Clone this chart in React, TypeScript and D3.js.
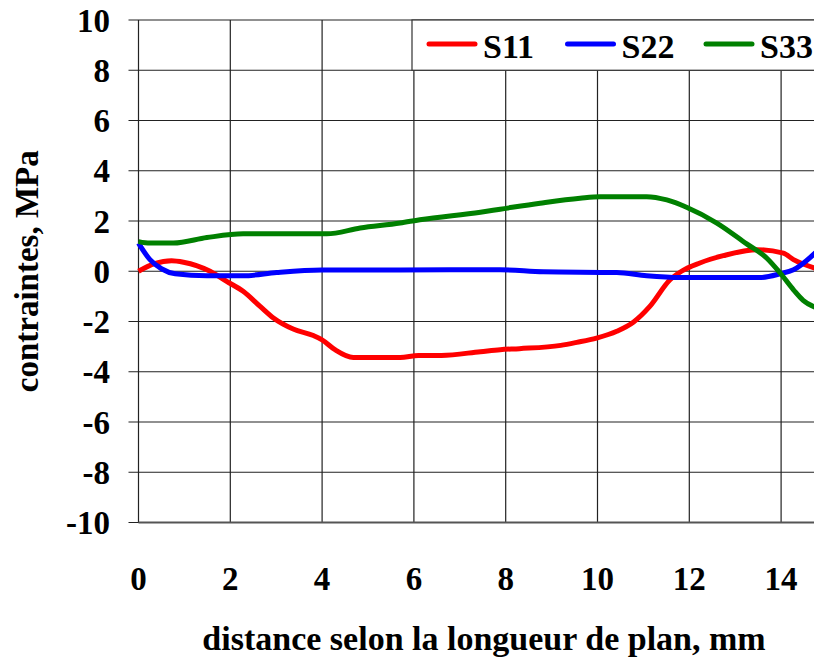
import React from 'react';
import * as d3 from 'd3';

// valeurs : [distance mm, contrainte MPa]
const s11: [number, number][] = [
  [0, 0], [0.35, 0.3], [0.72, 0.42], [0.98, 0.36], [1.56, 0.0], [1.92, -0.4],
  [2.28, -0.8], [2.65, -1.4], [2.94, -1.86], [3.37, -2.3], [3.81, -2.56],
  [3.99, -2.72], [4.28, -3.12], [4.68, -3.43], [5.7, -3.43], [6.1, -3.35],
  [6.6, -3.35], [7.45, -3.2], [7.88, -3.12], [8.3, -3.08], [9.2, -2.95],
  [9.55, -2.83], [9.98, -2.66], [10.42, -2.39], [10.78, -2.03], [11.14, -1.4],
  [11.58, -0.34], [11.83, 0.0], [12.23, 0.33], [12.74, 0.62], [13.47, 0.86],
  [14.05, 0.72], [14.27, 0.46], [14.75, 0.12],
];
const s22: [number, number][] = [
  [0, 1.12], [0.25, 0.46], [0.5, 0.1], [0.8, -0.1], [1.49, -0.18], [2.28, -0.18],
  [3.01, -0.05], [3.99, 0.05], [5.7, 0.05], [7.88, 0.06], [8.82, -0.02],
  [10.42, -0.05], [11.07, -0.18], [11.8, -0.25], [13.54, -0.25], [13.98, -0.1],
  [14.27, 0.06], [14.75, 0.74],
];
const s33: [number, number][] = [
  [0, 1.18], [0.25, 1.12], [0.76, 1.12], [1.49, 1.34], [2.28, 1.49], [4.1, 1.49],
  [4.83, 1.72], [5.7, 1.92], [6.13, 2.05], [7.45, 2.35], [7.88, 2.47],
  [8.75, 2.71], [9.62, 2.91], [10.05, 2.97], [11.07, 2.97], [11.51, 2.84],
  [11.94, 2.55], [12.6, 1.92], [13.25, 1.09], [13.69, 0.52], [13.98, -0.07],
  [14.27, -0.74], [14.48, -1.16], [14.75, -1.44],
];

const series = [
  { name: 'S11', color: '#ff0000', data: s11 },
  { name: 'S22', color: '#0000ff', data: s22 },
  { name: 'S33', color: '#008000', data: s33 },
];

const xTicks = [0, 2, 4, 6, 8, 10, 12, 14];
const yTicks = [-10, -8, -6, -4, -2, 0, 2, 4, 6, 8, 10];

const W = 814;
const H = 659;
const font = '"Liberation Serif", "Times New Roman", serif';

const App: React.FC = () => {
  const x = d3.scaleLinear().domain([0, 16]).range([138.5, 138.5 + 16 * 45.9]);
  const y = d3.scaleLinear().domain([-10, 10]).range([522.5, 20]);
  const x0 = x(0);
  const xEnd = W;

  const line = d3
    .line<[number, number]>()
    .x((d) => x(d[0]))
    .y((d) => y(d[1]))
    .curve(d3.curveMonotoneX);

  return (
    <svg
      width={W}
      height={H}
      style={{ position: 'absolute', left: 0, top: 0, background: '#fff' }}
      fontFamily={font}
      fontWeight="bold"
    >
      {/* grille horizontale */}
      {yTicks.map((t) => (
        <line key={'h' + t} x1={x0 - 10} x2={xEnd} y1={y(t)} y2={y(t)} stroke="#222" strokeWidth={1.2} />
      ))}
      {/* grille verticale */}
      {xTicks.map((t) => (
        <line key={'v' + t} x1={x(t)} x2={x(t)} y1={y(10)} y2={y(-10)} stroke="#222" strokeWidth={1.2} />
      ))}
      <line x1={x0} x2={xEnd} y1={y(-10)} y2={y(-10)} stroke="#555" strokeWidth={2} />

      {/* étiquettes Y */}
      {yTicks.map((t) => (
        <text key={'yl' + t} x={110} y={y(t)} dy="0.35em" textAnchor="end" fontSize={33}>
          {t}
        </text>
      ))}
      {/* étiquettes X */}
      {xTicks.map((t) => (
        <text key={'xl' + t} x={x(t)} y={578} dy="0.35em" textAnchor="middle" fontSize={33}>
          {t}
        </text>
      ))}

      {/* courbes */}
      {series.map((s) => (
        <path key={s.name} d={line(s.data) || ''} fill="none" stroke={s.color} strokeWidth={5} strokeLinejoin="round" />
      ))}

      {/* légende */}
      <rect x={412} y={y(10)} width={420} height={y(8) - y(10)} fill="#fff" stroke="#333" strokeWidth={1.2} />
      {series.map((s, i) => {
        const lx = 429 + i * 138.5;
        return (
          <g key={'lg' + s.name}>
            <line x1={lx} x2={lx + 46} y1={44} y2={44} stroke={s.color} strokeWidth={5} strokeLinecap="round" />
            <text x={lx + 54} y={58} fontSize={34}>
              {s.name}
            </text>
          </g>
        );
      })}

      {/* titres des axes */}
      <text
        transform={`translate(38, ${y(0)}) rotate(-90)`}
        textAnchor="middle"
        fontSize={33}
      >
        contraintes, MPa
      </text>
      <text x={484} y={650} textAnchor="middle" fontSize={34}>
        distance selon la longueur de plan, mm
      </text>
    </svg>
  );
};

export default App;
